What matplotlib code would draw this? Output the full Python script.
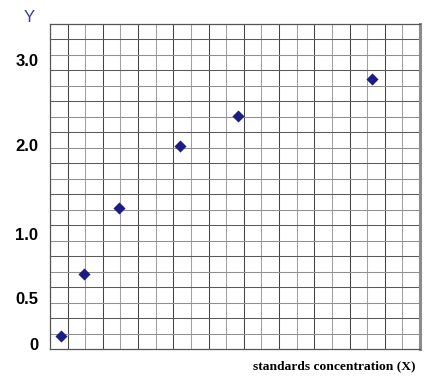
import matplotlib
matplotlib.use("Agg")
import matplotlib.pyplot as plt
import numpy as np

# data in grid units (21 x 21 cell grid)
x_vals = [0.61, 1.93, 3.94, 7.40, 10.65, 18.27]
y_vals = [0.88, 4.84, 9.15, 13.15, 15.03, 17.44]
ytick_labels = ["0", "0.5", "1.0", "2.0", "3.0"]
ytick_pos = [0.34, 3.31, 7.45, 13.2, 18.7]
n_cols = 21
n_rows = 21

W, H = 437, 379
fig = plt.figure(figsize=(W / 100, H / 100), dpi=100)
ax = fig.add_axes([50 / W, (H - 349.3) / H, 370 / W, 325.3 / H])
ax.set_xlim(0, n_cols)
ax.set_ylim(0, n_rows)

for i in range(1, n_cols):
    ax.axvline(i, color="#444444" if i % 2 else "#a0a0a0", lw=0.75, zorder=1)
for j in range(1, n_rows):
    ax.axhline(j, color="#5a5a5a" if j % 2 == 0 else "#909090", lw=0.75, zorder=1)

ax.scatter(x_vals, y_vals, marker="D", s=38, color="#1c1c86", zorder=3, linewidths=0)

ax.set_xticks([])
ax.set_yticks(ytick_pos)
ax.set_yticklabels(ytick_labels, fontsize=12, fontweight="bold", family="Liberation Sans")
ax.tick_params(axis="y", length=0, pad=8.5)

for side in ["left", "bottom", "top"]:
    ax.spines[side].set_color("#555555")
    ax.spines[side].set_linewidth(0.9)
ax.spines["right"].set_color("#8c8c8c")
ax.spines["right"].set_linewidth(2.2)

fig.text(29 / W, 1 - 18 / H, "Y", color="#3a3aa0", fontsize=12,
         family="Liberation Sans", ha="center", va="center")
fig.text(334 / W, 1 - 366.7 / H, "standards concentration (X)", fontsize=9.7,
         fontweight="bold", family="Liberation Serif", ha="center", va="center")

fig.savefig("out.png", dpi=100)
